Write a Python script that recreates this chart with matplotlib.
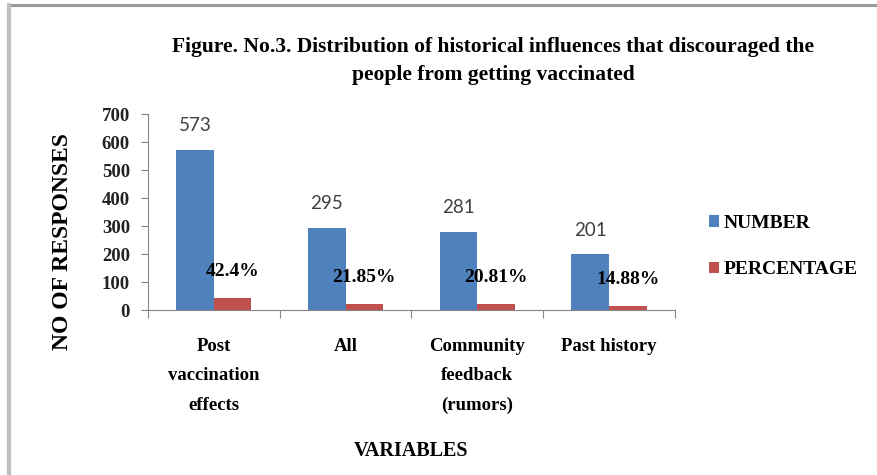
import matplotlib.pyplot as plt
from matplotlib.lines import Line2D
from matplotlib.ticker import FixedLocator, NullFormatter
import numpy as np

categories = ["Post\nvaccination\neffects", "All", "Community\nfeedback\n(rumors)", "Past history"]
number = [573, 295, 281, 201]
percentage = [42.4, 21.85, 20.81, 14.88]
pct_labels = ["42.4%", "21.85%", "20.81%", "14.88%"]
yticks = [0, 100, 200, 300, 400, 500, 600, 700]

blue = "#4F81BD"
red = "#C0504D"
serif = "Liberation Serif"

fig = plt.figure(figsize=(8.78, 4.75), dpi=100)
ax = fig.add_axes([0.1686, 0.347, 0.600, 0.4126])

x = np.arange(len(categories))
w = 0.285
b1 = ax.bar(x - w / 2, number, w, color=blue, label="NUMBER")
b2 = ax.bar(x + w / 2, percentage, w, color=red, label="PERCENTAGE")

for xi, v in zip(x, number):
    ax.annotate(str(v), (xi - w / 2, v), xytext=(0, 11), textcoords="offset points",
                ha="center", va="bottom", fontsize=13.5, family="Lato", color="#404040")
for xi, v, t in zip(x, percentage, pct_labels):
    ax.annotate(t, (xi + w / 2, v), xytext=(0, 19), textcoords="offset points",
                ha="center", va="center", fontsize=14, family=serif,
                fontweight="bold", color="black")

ax.set_xlim(-0.5, len(categories) - 0.5)
ax.set_ylim(0, 700)
ax.set_yticks(yticks)
ax.set_yticklabels([str(t) for t in yticks], family=serif, fontweight="bold",
                   fontsize=13.5, color="#222222")

# category boundaries get the tick marks, labels sit between them
ax.xaxis.set_major_locator(FixedLocator(np.arange(len(categories) + 1) - 0.5))
ax.xaxis.set_major_formatter(NullFormatter())
ax.xaxis.set_minor_locator(FixedLocator(x))
ax.set_xticklabels(categories, minor=True, family=serif, fontweight="bold", fontsize=13.5)
for lab in ax.get_xticklabels(minor=True):
    lab.set_linespacing(1.95)
ax.tick_params(axis="x", which="minor", length=0, pad=20)
ax.tick_params(axis="x", which="major", length=6, color="#868686", direction="out")
ax.tick_params(axis="y", length=5, color="#868686", direction="out", pad=8)

for s in ["top", "right"]:
    ax.spines[s].set_visible(False)
for s in ["left", "bottom"]:
    ax.spines[s].set_color("#868686")

ax.set_ylabel("NO OF RESPONSES", family=serif, fontweight="bold", fontsize=17)
ax.yaxis.set_label_coords(-0.142, 0.35)
ax.set_xlabel("VARIABLES", family=serif, fontweight="bold", fontsize=14.5)
ax.xaxis.set_label_coords(0.5, -0.67)

fig.text(0.5615, 0.872, "Figure. No.3. Distribution of historical influences that discouraged the\npeople from getting vaccinated",
         ha="center", va="center", multialignment="center", family=serif,
         fontweight="bold", fontsize=15.5, linespacing=1.5)

fig.legend(handles=[b1, b2], loc="center left", bbox_to_anchor=(0.788, 0.481),
           frameon=False, prop={"family": serif, "weight": "bold", "size": 14},
           handlelength=0.5, handleheight=0.5, handletextpad=0.25, labelspacing=1.5)

# page frame along the top and left edges
fig.add_artist(Line2D([9 / 878, 1], [1 - 5 / 475, 1 - 5 / 475], transform=fig.transFigure,
                      color="#9a9a9a", lw=2.2))
fig.add_artist(Line2D([9 / 878, 9 / 878], [0, 1 - 5 / 475], transform=fig.transFigure,
                      color="#c0c0c0", lw=3))

fig.savefig("out.png", dpi=100)
